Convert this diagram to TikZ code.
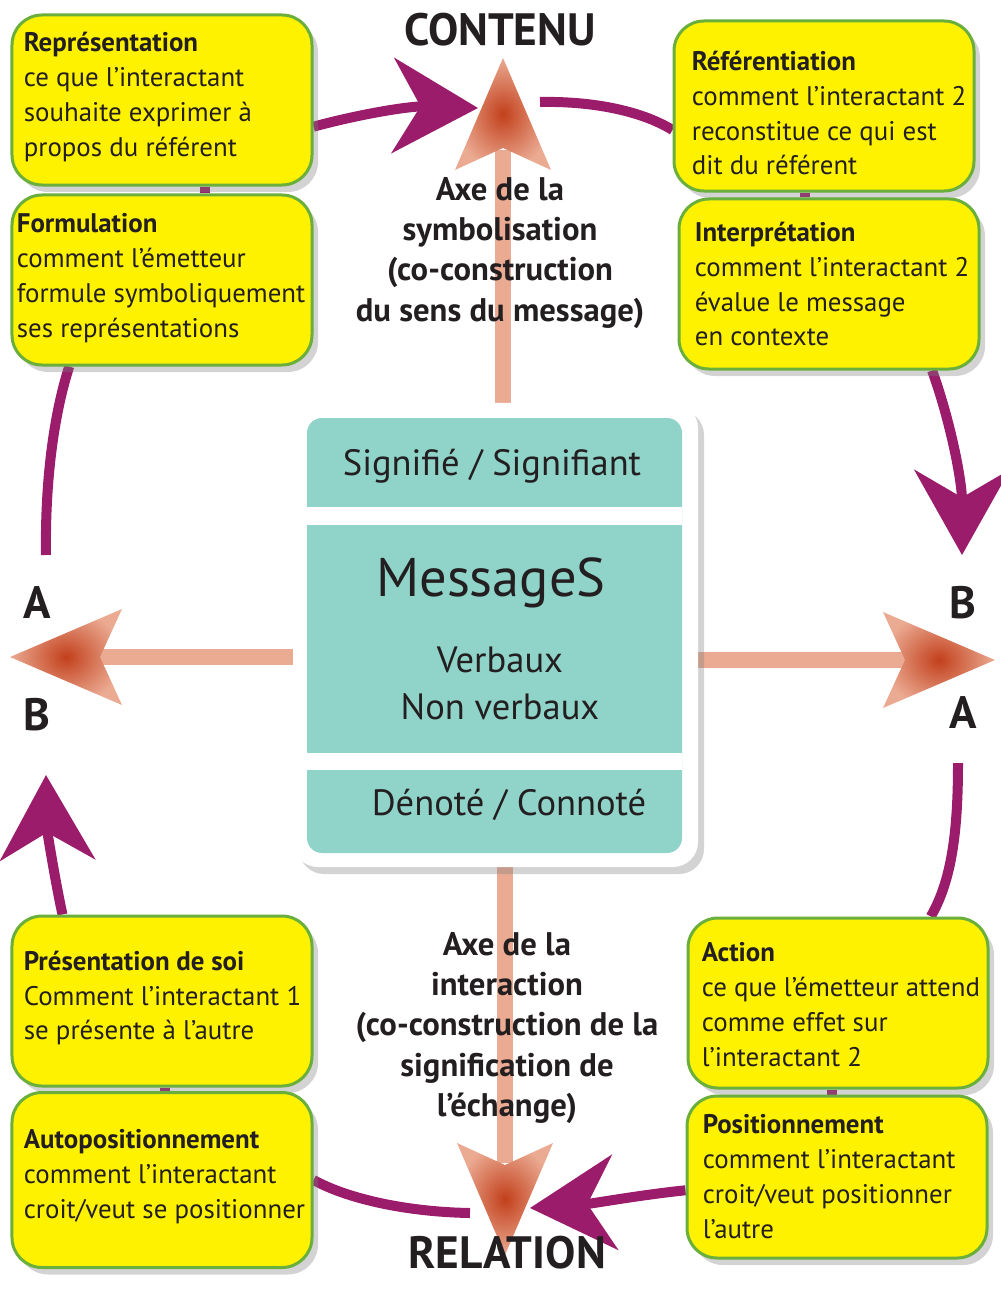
\documentclass[tikz,border=0pt]{standalone}
\usepackage{fontspec}
\setmainfont{PT Sans}
\usetikzlibrary{arrows.meta,shadows,calc}
\pgfdeclarelayer{background}
\pgfsetlayers{background,main}

\definecolor{boxyellow}{HTML}{FFF200}
\definecolor{boxgreen}{HTML}{6AAE3C}
\definecolor{msgteal}{HTML}{8FD3C9}
\definecolor{cycpurple}{HTML}{9A1C6A}
\definecolor{axlight}{HTML}{EBAA92}
\definecolor{axdark}{HTML}{C2401C}
\definecolor{inkdark}{HTML}{231F20}

% shaded head of an axis, tip at #1, pointing to angle #2
\newcommand\axhead[2]{\shade[inner color=axdark, outer color=axlight, shift={(#1)}, rotate=#2]
  (0,0) -- (-112,-48) -- (-90,0) -- (-112,48) -- cycle;}

\begin{document}
\begin{tikzpicture}[x=0.2mm,y=-0.2mm,line cap=round,line join=round,
  ybox/.style={draw=boxgreen, line width=0.6mm, fill=boxyellow, rounded corners=6mm,
    minimum width=60mm, minimum height=34mm,
    drop shadow={shadow xshift=1.2mm, shadow yshift=-1.4mm, opacity=0.35}},
  btext/.style={anchor=west, align=left, inner sep=0pt, text=inkdark,
    font=\fontsize{15.3}{19.9}\selectfont},
  msgbox/.style={fill=white, rounded corners=5mm, minimum width=81mm, minimum height=92.8mm,
    drop shadow={shadow xshift=1.2mm, shadow yshift=-1.4mm, opacity=0.35}},
  msgtext/.style={text=inkdark, font=\fontsize{20.8}{24}\selectfont},
  title/.style={text=inkdark, font=\fontsize{25.8}{28}\selectfont\bfseries},
  axlbl/.style={text=inkdark, align=center, font=\fontsize{18.6}{22.8}\selectfont\bfseries},
  axshaft/.style={draw=axlight, line width=3.2mm, line cap=butt},
  cyc/.style={draw=cycpurple, line width=2mm},
  cycarrow/.style={cyc, -{Stealth[length=17mm, width=19mm, inset=5.5mm]}}]
\useasboundingbox (0,0) rectangle (1000,1298);

\coordinate (tipUp) at (503,58);
\coordinate (tipDown) at (505,1255);
\coordinate (tipLeft) at (10,657);
\coordinate (tipRight) at (995,660);
\coordinate (cycTop) at (478,108);
\coordinate (cycRight) at (962,555);
\coordinate (cycBottom) at (530,1208);
\coordinate (cycLeft) at (46,775);

\node[msgbox] (msg) at (495.5,635) {};

% boxes
\node[ybox] (rep) at (162,100) {};
\node[ybox] (form) at (162,280) {};
\node[ybox] (refer) at (824,106) {};
\node[ybox] (interp) at (829,284) {};
\node[ybox] (pres) at (162,1001) {};
\node[ybox, minimum height=35mm] (autopos) at (162,1180) {};
\node[ybox] (action) at (838,1003) {};
\node[ybox, minimum height=32.4mm] (posit) at (837,1177) {};

\begin{pgfonlayer}{background}
% axes
\draw[axshaft] (msg.north -| tipUp) -- ($(tipUp)+(0,92)$);
\draw[axshaft] (msg.south -| tipDown) -- ($(tipDown)+(0,-92)$);
\draw[axshaft] (msg.west |- tipLeft) -- ($(tipLeft)+(82,0)$);
\draw[axshaft] (msg.east |- tipRight) -- ($(tipRight)+(-82,0)$);
\axhead{tipUp}{90}
\axhead{tipDown}{-90}
\axhead{tipLeft}{180}
\axhead{tipRight}{0}

% cycle
\draw[cycarrow] (rep.-10) .. controls (360,114) and (410,106) .. (cycTop);
\draw[cyc] (540,102) .. controls (590,101) and (640,110) .. (refer.189);
\draw[cycarrow] (interp.-40) .. controls (950,420) and (962,480) .. (cycRight);
\draw[cyc] (958,763) .. controls (958,830) and (952,880) .. (action.43);
\draw[cycarrow] (posit.185) .. controls (640,1195) and (590,1204) .. (cycBottom);
\draw[cyc] (470,1213) .. controls (410,1212) and (350,1200) .. (autopos.east);
\draw[cycarrow] (pres.139) .. controls (55,880) and (47,830) .. (cycLeft);
\draw[cyc] (46,555) .. controls (45,490) and (52,420) .. (form.223);
\draw[cyc] (rep.south -| 205,0) -- (form.north -| 205,0);
\draw[cyc] (refer.south -| 805,0) -- (interp.north -| 805,0);
\draw[cyc] (pres.south -| 165,0) -- (autopos.north -| 165,0);
\draw[cyc] (action.south -| 832,0) -- (posit.north -| 832,0);
\end{pgfonlayer}

\node[btext] (rep-t) at ($(rep.west)+(13,-3)$) {\textbf{Représentation}\\ce que l’interactant\\souhaite exprimer à\\propos du référent};
\node[btext] (form-t) at ($(form.west)+(6,-2)$) {\textbf{Formulation}\\comment l’émetteur\\formule symboliquement\\ses représentations};
\node[btext] (refer-t) at ($(refer.west)+(19,7)$) {\textbf{Référentiation}\\comment l’interactant 2\\reconstitue ce qui est\\dit du référent};
\node[btext] (interp-t) at ($(interp.west)+(17,0)$) {\textbf{Interprétation}\\comment l’interactant 2\\évalue le message\\en contexte};
\node[btext] (pres-t) at ($(pres.west)+(13,-3)$) {\textbf{Présentation de soi}\\Comment l’interactant 1\\se présente à l’autre};
\node[btext] (autopos-t) at ($(autopos.west)+(13,-3)$) {\textbf{Autopositionnement}\\comment l’interactant\\croit/veut se positionner};
\node[btext] (action-t) at ($(action.west)+(15,2)$) {\textbf{Action}\\ce que l’émetteur attend\\comme effet sur\\l’interactant 2};
\node[btext] (posit-t) at ($(posit.west)+(17,0)$) {\textbf{Positionnement}\\comment l’interactant\\croit/veut positionner\\l’autre};

% messages
\fill[msgteal, rounded corners=3mm] (307,418) rectangle (682,853);
\fill[white] (307,507) rectangle (682,525);
\fill[white] (307,753) rectangle (682,770);
\node[msgtext] (sig) at (492,466) {Signifié / Signifiant};
\node[msgtext, font=\fontsize{31}{36}\selectfont] (mess) at (491,583) {MessageS};
\node[msgtext] (verb) at (500,660) {Verbaux};
\node[msgtext] (nonverb) at (500,707) {Non verbaux};
\node[msgtext] (denot) at (509,805) {Dénoté / Connoté};

% labels
\node[title] (contenu) at (500,30) {CONTENU};
\node[title] (relation) at (507,1253) {RELATION};
\node[title] (aL) at (37,603) {A};
\node[title] (bL) at (37,715) {B};
\node[title] (bR) at (963,603) {B};
\node[title] (aR) at (963,713) {A};
\node[axlbl] (symb) at (500,253) {Axe de la\\symbolisation\\(co-construction\\du sens du message)};
\node[axlbl] (inter) at (507,1028) {Axe de la\\interaction\\(co-construction de la\\signification de\\l’échange)};
\end{tikzpicture}
\end{document}
